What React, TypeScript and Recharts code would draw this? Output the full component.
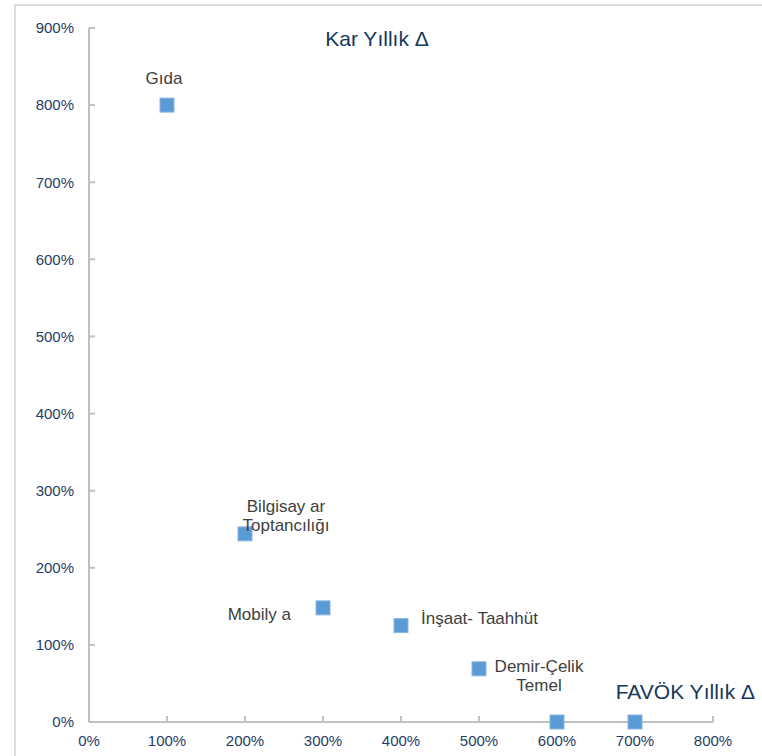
import { ScatterChart, Scatter, XAxis, YAxis } from 'recharts';

const sectors = ['Gıda', 'Bilgisay ar\nToptancılığı', 'Mobily a', 'İnşaat- Taahhüt', 'Demir-Çelik\nTemel', '', ''];
const favokChange = [100, 200, 300, 400, 500, 600, 700];
const karChange = [800, 244, 148, 125, 69, 0, 0];
const xTicks = [0, 100, 200, 300, 400, 500, 600, 700, 800];
const yTicks = [0, 100, 200, 300, 400, 500, 600, 700, 800, 900];

const data = sectors.map((name, i) => ({ name, x: favokChange[i], y: karChange[i] }));

// where each sector's label sits relative to its marker
const labelLayout: Record<string, { dx: number; dy: number; anchor: 'start' | 'middle' | 'end' }> = {
  'Gıda': { dx: -3, dy: -21, anchor: 'middle' },
  'Bilgisay ar\nToptancılığı': { dx: 41, dy: -22, anchor: 'middle' },
  'Mobily a': { dx: -32, dy: 12, anchor: 'end' },
  'İnşaat- Taahhüt': { dx: 20, dy: -2, anchor: 'start' },
  'Demir-Çelik\nTemel': { dx: 60, dy: 3, anchor: 'middle' },
};

const font = '"Liberation Sans", Arial, sans-serif';
const axisColor = '#bfbfbf';
const tickColor = '#1f3d66';

const pct = (v: number) => `${v}%`;

function Marker(props: any) {
  const { cx, cy, payload } = props;
  const layout = labelLayout[payload.name];
  const lines = payload.name ? payload.name.split('\n') : [];
  return (
    <g>
      <rect x={cx - 7} y={cy - 7} width={14} height={14} fill="#5b9bd5" stroke="#8bb6e0" strokeWidth={1} />
      {layout &&
        lines.map((line: string, i: number) => (
          <text
            key={i}
            x={cx + layout.dx}
            y={cy + layout.dy + i * 19}
            textAnchor={layout.anchor}
            fontSize={17}
            fontFamily={font}
            fill="#404040"
          >
            {line}
          </text>
        ))}
    </g>
  );
}

export default function App() {
  return (
    <div style={{ position: 'absolute', left: 0, top: 0, width: 762, height: 756, overflow: 'hidden', background: '#fff' }}>
      <div
        style={{
          position: 'absolute',
          left: 14,
          top: 4,
          width: 800,
          height: 800,
          border: '2px solid #dcdcdc',
        }}
      />
      <div style={{ position: 'absolute', left: 0, top: 0 }}>
        <ScatterChart width={762} height={756} margin={{ top: 28, right: 49, bottom: 0, left: 0 }}>
          <XAxis
            type="number"
            dataKey="x"
            domain={[0, 800]}
            ticks={xTicks}
            interval={0}
            height={34}
            tickFormatter={pct}
            tickSize={-6}
            tickMargin={19}
            axisLine={{ stroke: axisColor, strokeWidth: 2 }}
            tickLine={{ stroke: axisColor, strokeWidth: 2 }}
            tick={{ fontSize: 15, fill: tickColor, fontFamily: font }}
          />
          <YAxis
            type="number"
            dataKey="y"
            domain={[0, 900]}
            ticks={yTicks}
            interval={0}
            width={89}
            tickFormatter={pct}
            tickSize={-6}
            tickMargin={21}
            axisLine={{ stroke: axisColor, strokeWidth: 2 }}
            tickLine={{ stroke: axisColor, strokeWidth: 2 }}
            tick={{ fontSize: 15, fill: tickColor, fontFamily: font }}
          />
          <Scatter data={data} shape={<Marker />} isAnimationActive={false} />
        </ScatterChart>
      </div>
      <svg width={762} height={756} style={{ position: 'absolute', left: 0, top: 0, pointerEvents: 'none' }}>
        <text x={377} y={46} textAnchor="middle" fontSize={21} fontFamily={font} fill="#17375e">
          Kar Yıllık Δ
        </text>
        <text x={755} y={699} textAnchor="end" fontSize={21} fontFamily={font} fill="#17375e">
          FAVÖK Yıllık Δ
        </text>
      </svg>
    </div>
  );
}
